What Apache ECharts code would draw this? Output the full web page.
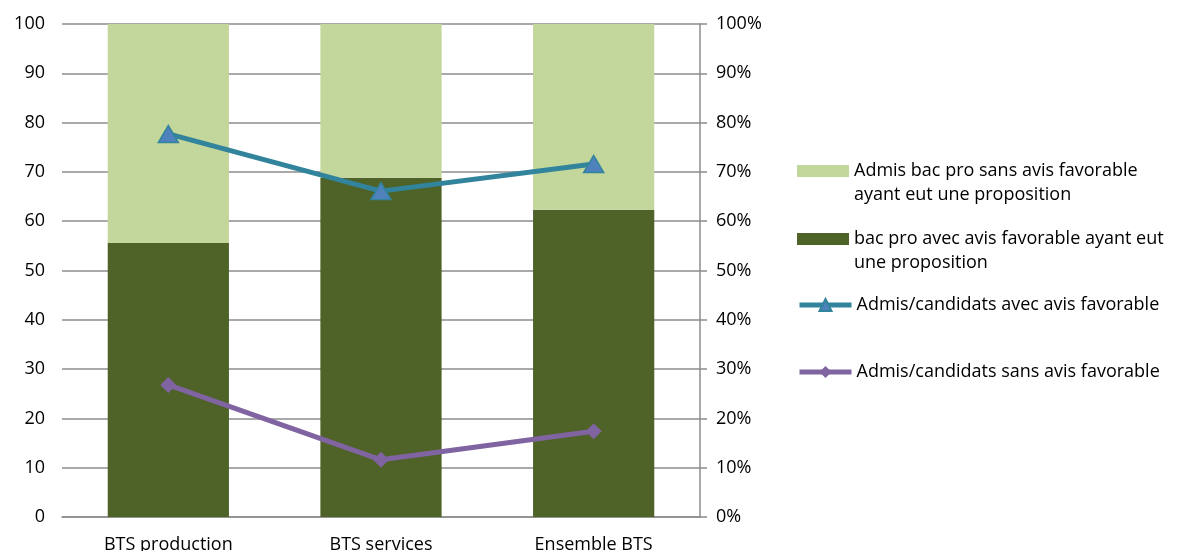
<!DOCTYPE html>
<html>
<head>
<meta charset="utf-8">
<script src="https://cdn.jsdelivr.net/npm/echarts@6/dist/echarts.min.js"></script>
<style>
  html, body { margin: 0; padding: 0; background: #fff; }
  #chart { width: 1179px; height: 551px; }
</style>
</head>
<body>
<div id="chart"></div>
<script>
  // categories and values
  const categories = ['BTS production', 'BTS services', 'Ensemble BTS']
  const avecAvis = [55.6, 68.8, 62.3]
  const sansAvis = [44.4, 31.2, 37.7]
  const tauxAvec = [77.7, 66.1, 71.6]
  const tauxSans = [26.8, 11.6, 17.4]

  const names = [
    'Admis bac pro sans avis favorable ayant eut une proposition',
    'bac pro avec avis favorable ayant eut une proposition',
    'Admis/candidats avec avis favorable',
    'Admis/candidats sans avis favorable'
  ]
  // leading empty line keeps the key level with the first line of text
  const labels = {}
  labels[names[0]] = '\nAdmis bac pro sans avis favorable\nayant eut une proposition'
  labels[names[1]] = '\nbac pro avec avis favorable ayant eut\nune proposition'

  const font = 'Open Sans'
  const grey = '#8c8c8c'

  let chart = echarts.init(document.getElementById('chart'))

  function legend (name, top, twoLines) {
    return {
      data: [name],
      left: 797,
      top: top,
      padding: 0,
      itemWidth: 52,
      itemHeight: twoLines ? 12 : 15,
      icon: twoLines ? 'rect' : undefined,
      selectedMode: false,
      lineStyle: { width: 5 },
      formatter: (n) => labels[n] || n,
      textStyle: {
        fontFamily: font,
        fontSize: 18,
        color: '#000',
        lineHeight: 24
      }
    }
  }

  let option = {
    animation: false,
    textStyle: { fontFamily: font },
    grid: { left: 62, right: 479, top: 24, bottom: 34, outerBoundsMode: 'none' },
    legend: [
      legend(names[0], 135, true),
      legend(names[1], 203, true),
      legend(names[2], 293, false),
      legend(names[3], 360, false)
    ],
    xAxis: {
      type: 'category',
      data: categories,
      axisLine: { lineStyle: { color: grey, width: 1.5 } },
      axisTick: { show: false },
      axisLabel: { fontFamily: font, fontSize: 18, color: '#000', margin: 19 }
    },
    yAxis: [{
      type: 'value',
      min: 0,
      max: 100,
      interval: 10,
      axisLine: { show: false },
      axisTick: { show: false },
      splitLine: { lineStyle: { color: grey, width: 1.5 } },
      axisLabel: { fontFamily: font, fontSize: 18, color: '#000', margin: 17 }
    }, {
      type: 'value',
      position: 'right',
      min: 0,
      max: 100,
      interval: 10,
      axisLine: { show: true, lineStyle: { color: grey, width: 1.5 } },
      axisTick: { show: true, length: 7, lineStyle: { color: grey, width: 1.5 } },
      splitLine: { show: false },
      axisLabel: { fontFamily: font, fontSize: 18, color: '#000', margin: 16, formatter: '{value}%' }
    }],
    series: [{
      name: names[1],
      type: 'bar',
      stack: 'bac',
      barWidth: '57%',
      data: avecAvis,
      itemStyle: { color: '#4F6228' }
    }, {
      name: names[0],
      type: 'bar',
      stack: 'bac',
      data: sansAvis,
      itemStyle: { color: '#C3D69B' }
    }, {
      name: names[2],
      type: 'line',
      yAxisIndex: 1,
      data: tauxAvec,
      symbol: 'triangle',
      symbolSize: [20, 17],
      lineStyle: { color: '#31849B', width: 5 },
      itemStyle: { color: '#4F81BD', borderColor: '#31849B', borderWidth: 1.5 }
    }, {
      name: names[3],
      type: 'line',
      yAxisIndex: 1,
      data: tauxSans,
      symbol: 'diamond',
      symbolSize: 16,
      lineStyle: { color: '#8064A2', width: 5 },
      itemStyle: { color: '#8064A2' }
    }]
  }

  chart.setOption(option)
</script>
</body>
</html>
